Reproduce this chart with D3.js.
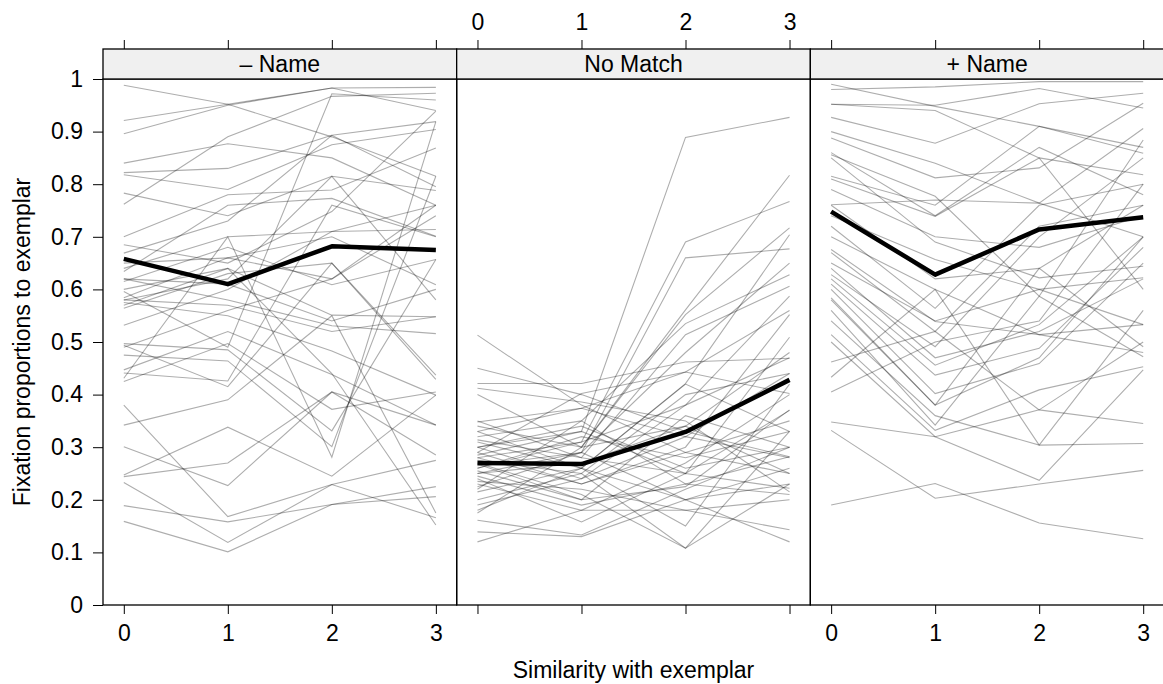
<!DOCTYPE html>
<html>
<head>
<meta charset="utf-8">
<script src="https://cdn.jsdelivr.net/npm/d3@7"></script>
<style>
  body { margin: 0; background: #fff; }
  text { font-family: "Liberation Sans", Arial, Helvetica, sans-serif; fill: #000; }
</style>
</head>
<body>
<div id="chart"></div>
<script>
// panel titles and x values
var panelNames = ["\u2013 Name", "No Match", "+ Name"];
var similarity = [0, 1, 2, 3];
var yTicks = [0, 0.1, 0.2, 0.3, 0.4, 0.5, 0.6, 0.7, 0.8, 0.9, 1];

// mean lines (bold black)
var meanMinusName = [0.658, 0.610, 0.682, 0.675];
var meanNoMatch = [0.270, 0.268, 0.329, 0.428];
var meanPlusName = [0.748, 0.628, 0.714, 0.737];

// one row per participant: values at similarity 0,1,2,3
var linesMinusName = [
  [0.988, 0.952, 0.890, 0.815], [0.921, 0.952, 0.983, 0.940], [0.896, 0.950, 0.983, 0.984],
  [0.840, 0.877, 0.850, 0.760], [0.822, 0.830, 0.893, 0.919], [0.818, 0.790, 0.875, 0.904],
  [0.783, 0.740, 0.815, 0.788], [0.762, 0.890, 0.967, 0.973], [0.700, 0.780, 0.789, 0.869],
  [0.685, 0.650, 0.748, 0.939], [0.669, 0.730, 0.893, 0.795], [0.640, 0.700, 0.710, 0.714],
  [0.634, 0.760, 0.773, 0.701], [0.620, 0.580, 0.531, 0.516], [0.615, 0.680, 0.609, 0.657],
  [0.600, 0.640, 0.551, 0.548], [0.596, 0.490, 0.972, 0.960], [0.584, 0.660, 0.700, 0.609],
  [0.580, 0.620, 0.815, 0.580], [0.575, 0.550, 0.483, 0.399], [0.564, 0.630, 0.650, 0.437],
  [0.532, 0.600, 0.710, 0.760], [0.497, 0.485, 0.331, 0.657], [0.494, 0.415, 0.650, 0.429],
  [0.475, 0.464, 0.301, 0.815], [0.447, 0.520, 0.438, 0.342], [0.441, 0.426, 0.760, 0.700],
  [0.431, 0.700, 0.281, 0.919], [0.425, 0.497, 0.372, 0.405], [0.380, 0.168, 0.229, 0.275],
  [0.342, 0.390, 0.550, 0.175], [0.301, 0.227, 0.405, 0.285], [0.247, 0.338, 0.245, 0.399],
  [0.244, 0.270, 0.405, 0.342], [0.233, 0.119, 0.229, 0.166], [0.189, 0.158, 0.191, 0.225],
  [0.159, 0.101, 0.191, 0.206], [0.620, 0.610, 0.540, 0.600], [0.580, 0.570, 0.520, 0.548],
  [0.650, 0.660, 0.620, 0.760], [0.570, 0.640, 0.440, 0.152], [0.490, 0.560, 0.620, 0.740]
];
var linesNoMatch = [
  [0.300, 0.330, 0.889, 0.927], [0.280, 0.310, 0.690, 0.767], [0.250, 0.290, 0.660, 0.677],
  [0.513, 0.380, 0.290, 0.250], [0.450, 0.400, 0.330, 0.282], [0.421, 0.421, 0.462, 0.469],
  [0.412, 0.386, 0.350, 0.215], [0.400, 0.300, 0.561, 0.817], [0.348, 0.374, 0.443, 0.402],
  [0.340, 0.300, 0.552, 0.717], [0.330, 0.260, 0.421, 0.704], [0.320, 0.350, 0.535, 0.628],
  [0.314, 0.280, 0.514, 0.606], [0.300, 0.240, 0.380, 0.587], [0.290, 0.230, 0.300, 0.552],
  [0.285, 0.330, 0.250, 0.509], [0.275, 0.250, 0.400, 0.440], [0.268, 0.200, 0.225, 0.371],
  [0.260, 0.320, 0.280, 0.330], [0.255, 0.200, 0.360, 0.300], [0.250, 0.270, 0.340, 0.250],
  [0.240, 0.158, 0.250, 0.222], [0.235, 0.220, 0.180, 0.143], [0.225, 0.290, 0.200, 0.120],
  [0.220, 0.350, 0.230, 0.282], [0.200, 0.250, 0.108, 0.330], [0.180, 0.260, 0.150, 0.420],
  [0.175, 0.300, 0.340, 0.480], [0.161, 0.133, 0.220, 0.300], [0.139, 0.130, 0.200, 0.260],
  [0.120, 0.180, 0.180, 0.200], [0.330, 0.374, 0.320, 0.440], [0.290, 0.402, 0.443, 0.560],
  [0.270, 0.210, 0.108, 0.230], [0.350, 0.280, 0.250, 0.370], [0.280, 0.230, 0.290, 0.350],
  [0.230, 0.180, 0.270, 0.400], [0.190, 0.240, 0.320, 0.280], [0.310, 0.260, 0.200, 0.230],
  [0.260, 0.310, 0.380, 0.470], [0.245, 0.190, 0.230, 0.210], [0.215, 0.260, 0.420, 0.330],
  [0.300, 0.340, 0.260, 0.300], [0.265, 0.290, 0.480, 0.650]
];
var linesPlusName = [
  [0.990, 0.948, 0.910, 0.870], [0.980, 0.985, 0.995, 0.995], [0.952, 0.950, 0.982, 0.945],
  [0.952, 0.940, 0.850, 0.818], [0.927, 0.878, 0.953, 0.973], [0.900, 0.840, 0.764, 0.906],
  [0.888, 0.812, 0.831, 0.954], [0.856, 0.777, 0.587, 0.884], [0.850, 0.690, 0.622, 0.644],
  [0.815, 0.760, 0.910, 0.859], [0.810, 0.739, 0.850, 0.600], [0.761, 0.770, 0.764, 0.700],
  [0.740, 0.657, 0.600, 0.622], [0.720, 0.564, 0.760, 0.800], [0.676, 0.539, 0.514, 0.533],
  [0.670, 0.520, 0.720, 0.760], [0.628, 0.491, 0.700, 0.850], [0.620, 0.456, 0.533, 0.700],
  [0.610, 0.437, 0.488, 0.680], [0.600, 0.402, 0.459, 0.650], [0.584, 0.380, 0.640, 0.491],
  [0.560, 0.342, 0.587, 0.472], [0.514, 0.332, 0.409, 0.453], [0.500, 0.320, 0.237, 0.447],
  [0.462, 0.520, 0.371, 0.345], [0.433, 0.600, 0.304, 0.307], [0.405, 0.500, 0.540, 0.800],
  [0.332, 0.203, 0.230, 0.256], [0.348, 0.320, 0.371, 0.500], [0.190, 0.231, 0.156, 0.126],
  [0.700, 0.600, 0.514, 0.480], [0.650, 0.540, 0.600, 0.533], [0.790, 0.700, 0.680, 0.740],
  [0.760, 0.620, 0.640, 0.760], [0.640, 0.470, 0.520, 0.620], [0.580, 0.380, 0.470, 0.700],
  [0.540, 0.360, 0.304, 0.560], [0.860, 0.740, 0.870, 0.780]
];

var panelLines = [linesMinusName, linesNoMatch, linesPlusName];
var panelMeans = [meanMinusName, meanNoMatch, meanPlusName];

// svg size and panel layout
var svgWidth = 1163;
var svgHeight = 684;
var left = 103, right = 1164;
var stripTop = 49, panelTop = 79, panelBottom = 605;
var panelWidth = (right - left) / 3;
var fontSize = "23px";

var svg = d3.select("#chart")
  .append("svg")
  .attr("width", svgWidth)
  .attr("height", svgHeight);

var y = d3.scaleLinear().domain([0, 1]).range([panelBottom, panelTop]);

// y axis on the left of the first panel
var yAxis = svg.append("g")
  .attr("transform", `translate(${left}, 0)`)
  .call(d3.axisLeft(y).tickValues(yTicks).tickSize(10).tickPadding(10).tickFormat(d3.format("")));
yAxis.select(".domain").remove();
yAxis.selectAll("text").style("font-size", fontSize);
yAxis.selectAll("line").attr("stroke", "#000");

panelNames.forEach(function(name, i) {
  var x0 = left + i * panelWidth;
  var x = d3.scaleLinear().domain([-0.2, 3.2]).range([x0, x0 + panelWidth]);

  var line = d3.line()
    .x((d, j) => x(similarity[j]))
    .y(d => y(d));

  // participant lines
  svg.append("g")
    .selectAll("path")
    .data(panelLines[i])
    .enter()
    .append("path")
    .attr("d", line)
    .attr("fill", "none")
    .attr("stroke", "#000")
    .attr("stroke-opacity", 0.32)
    .attr("stroke-width", 1.1);

  // mean line
  svg.append("path")
    .datum(panelMeans[i])
    .attr("d", line)
    .attr("fill", "none")
    .attr("stroke", "#000")
    .attr("stroke-width", 4.5)
    .attr("stroke-linejoin", "round");

  // panel border
  svg.append("rect")
    .attr("x", x0).attr("y", panelTop)
    .attr("width", panelWidth).attr("height", panelBottom - panelTop)
    .attr("fill", "none").attr("stroke", "#000").attr("stroke-width", 1.3);

  // strip
  svg.append("rect")
    .attr("x", x0).attr("y", stripTop)
    .attr("width", panelWidth).attr("height", panelTop - stripTop)
    .attr("fill", "#f0f0f0").attr("stroke", "#000").attr("stroke-width", 1.3);
  svg.append("text")
    .attr("x", x0 + panelWidth / 2)
    .attr("y", (stripTop + panelTop) / 2)
    .attr("dy", "0.35em")
    .attr("text-anchor", "middle")
    .style("font-size", fontSize)
    .text(name);

  // bottom axis: labels on panels 1 and 3
  var bottom = svg.append("g")
    .attr("transform", `translate(0, ${panelBottom})`)
    .call(d3.axisBottom(x).tickValues(similarity).tickSize(9).tickPadding(11)
      .tickFormat(i === 1 ? () => "" : d3.format("d")));
  bottom.select(".domain").remove();

  // top axis: labels on panel 2
  var top = svg.append("g")
    .attr("transform", `translate(0, ${stripTop})`)
    .call(d3.axisTop(x).tickValues(similarity).tickSize(9).tickPadding(10)
      .tickFormat(i === 1 ? d3.format("d") : () => ""));
  top.select(".domain").remove();

  [bottom, top].forEach(function(g) {
    g.selectAll("text").style("font-size", fontSize);
    g.selectAll("line").attr("stroke", "#000");
  });
});

// axis titles
svg.append("text")
  .attr("x", (left + right) / 2)
  .attr("y", 670)
  .attr("dy", "0.35em")
  .attr("text-anchor", "middle")
  .style("font-size", fontSize)
  .text("Similarity with exemplar");

svg.append("text")
  .attr("transform", `translate(22, ${(panelTop + panelBottom) / 2}) rotate(-90)`)
  .attr("dy", "0.35em")
  .attr("text-anchor", "middle")
  .style("font-size", fontSize)
  .text("Fixation proportions to exemplar");
</script>
</body>
</html>
